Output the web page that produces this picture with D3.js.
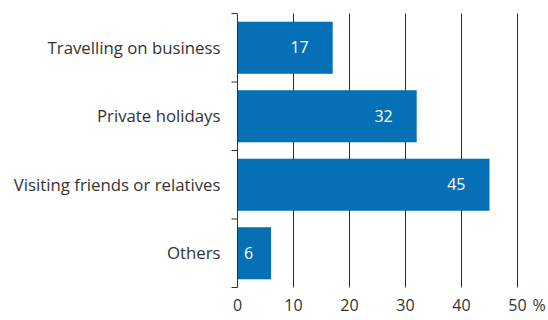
<!DOCTYPE html>
<html>
<head>
<meta charset="utf-8">
<script src="https://cdn.jsdelivr.net/npm/d3@7"></script>
<style>
  html, body { margin: 0; padding: 0; background: #fff; }
  svg text { font-family: "Open Sans", "Noto Sans", sans-serif; fill: #333; }
</style>
</head>
<body>
<svg id="chart" width="548" height="320"></svg>
<script>
// Reasons for travel, share of trips in percent
const categories = ["Travelling on business", "Private holidays", "Visiting friends or relatives", "Others"];
const shares = [17, 32, 45, 6];
const xTicks = [0, 10, 20, 30, 40, 50];

const svg = d3.select("#chart");
const margin = { top: 13.5, left: 237.5, right: 30.5, bottom: 32.5 };
const height = 320 - margin.top - margin.bottom;
const fs = 16.8;

const x = d3.scaleLinear().domain([0, 50]).range([0, 280]);
const y = d3.scaleBand().domain(categories).range([0, height]).paddingInner(0.24).paddingOuter(0.12);

const g = svg.append("g").attr("transform", `translate(${margin.left},${margin.top})`);

// vertical grid lines
g.selectAll("line.grid")
  .data(xTicks.filter(d => d > 0))
  .join("line")
  .attr("class", "grid")
  .attr("x1", d => Math.round(x(d)))
  .attr("x2", d => Math.round(x(d)))
  .attr("y1", 0)
  .attr("y2", height)
  .attr("stroke", "#2a2a2a")
  .attr("stroke-width", 1);

// bars
g.selectAll("rect.bar")
  .data(categories)
  .join("rect")
  .attr("class", "bar")
  .attr("x", 0)
  .attr("y", d => y(d))
  .attr("width", (d, i) => x(shares[i]))
  .attr("height", y.bandwidth())
  .attr("fill", "#0670b7");

// value labels inside bars
g.selectAll("text.value")
  .data(categories)
  .join("text")
  .attr("class", "value")
  .attr("x", (d, i) => x(shares[i]) - (shares[i] < 10 ? 18 : 24))
  .attr("y", d => y(d) + y.bandwidth() / 2)
  .attr("dy", "0.35em")
  .attr("text-anchor", "end")
  .attr("font-size", 16)
  .style("fill", "#fff")
  .text((d, i) => shares[i]);

// category axis with boundary ticks
const bounds = d3.range(categories.length + 1).map(i => i * (height / categories.length));
g.append("line")
  .attr("x1", 0).attr("x2", 0)
  .attr("y1", 0).attr("y2", height)
  .attr("stroke", "#333").attr("stroke-width", 1);
g.selectAll("line.btick")
  .data(bounds)
  .join("line")
  .attr("class", "btick")
  .attr("x1", -6).attr("x2", 0)
  .attr("y1", d => d).attr("y2", d => d)
  .attr("stroke", "#333").attr("stroke-width", 1);

// category labels
g.selectAll("text.cat")
  .data(categories)
  .join("text")
  .attr("class", "cat")
  .attr("x", -17)
  .attr("y", d => y(d) + y.bandwidth() / 2)
  .attr("dy", "0.35em")
  .attr("text-anchor", "end")
  .attr("font-size", fs)
  .text(d => d);

// value axis labels
g.selectAll("text.xt")
  .data(xTicks)
  .join("text")
  .attr("class", "xt")
  .attr("x", d => x(d))
  .attr("y", height + 23)
  .attr("text-anchor", "middle")
  .attr("font-size", 16)
  .text(d => d);
g.append("text")
  .attr("x", x(50) + 15)
  .attr("y", height + 23)
  .attr("font-size", 16)
  .text("%");
</script>
</body>
</html>
